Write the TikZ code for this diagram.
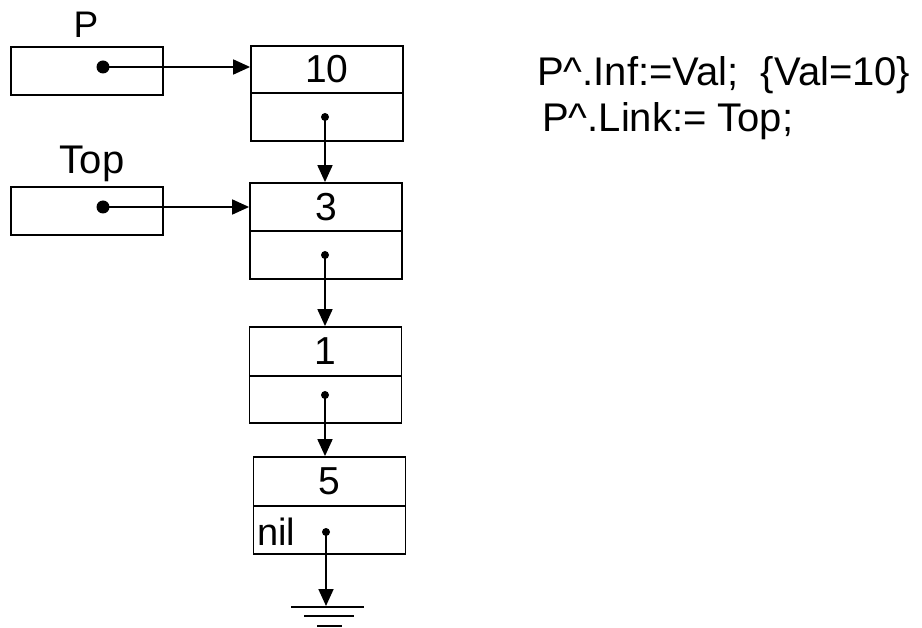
\documentclass[tikz,border=0pt]{standalone}
\usepackage{fontspec}
\setmainfont{Liberation Sans}
\usetikzlibrary{arrows.meta}
\begin{document}
\begin{tikzpicture}[x=1pt,y=-1pt,
  lw/.style={line width=1.8pt},
  cell/.style={draw,lw,minimum width=152pt,inner sep=0pt,anchor=center,font=\fontsize{39}{47}\selectfont},
  bigdot/.style={circle,fill,minimum size=13pt,inner sep=0pt},
  smalldot/.style={circle,fill,minimum size=8pt,inner sep=0pt},
  link/.style={lw,-{Triangle[length=17pt,width=15pt]}},
  lbl/.style={font=\fontsize{37}{45}\selectfont,anchor=base,inner sep=0pt},
  code/.style={font=\fontsize{40}{48}\selectfont,anchor=base west,inner sep=0pt}]
\useasboundingbox (0,0) rectangle (922,628);
% pointer boxes
\node[cell,minimum height=48pt] (pbox) at (87,71) {};
\node[cell,minimum height=48pt] (tbox) at (87,211) {};
\node[lbl] (plbl) at (86,38) {P};
\node[lbl,font=\fontsize{40}{48}\selectfont] (tlbl) at (92,174) {Top};
\node[bigdot] (pd) at (103,67) {};
\node[bigdot] (td) at (103,207) {};
% list cells
\node[cell,minimum height=47pt] (n10a) at (327,69.5) {10};
\node[cell,minimum height=48pt] (n10b) at (327,117) {};
\node[cell,minimum height=48pt] (n3a) at (326,207) {3};
\node[cell,minimum height=48pt] (n3b) at (326,255) {};
\node[cell,minimum height=49pt] (n1a) at (325.5,351.5) {1};
\node[cell,minimum height=47pt] (n1b) at (325.5,399.5) {};
\node[cell,minimum height=49pt] (n5a) at (329.5,481.5) {5};
\node[cell,minimum height=48pt] (n5b) at (329.5,530) {};
\node[font=\fontsize{38}{46}\selectfont,anchor=base west,inner sep=0pt] (nil) at (257,545) {nil};
\node[smalldot] (d10) at (325,117) {};
\node[smalldot] (d3) at (325,255) {};
\node[smalldot] (d1) at (325,395) {};
\node[smalldot] (d5) at (326,532) {};
% connectors
\draw[link] (pd.center) -- (pd.center -| n10a.west);
\draw[link] (td.center) -- (td.center -| n3a.west);
\draw[link] (d10.center) -- (d10.center |- n3a.north);
\draw[link] (d3.center) -- (d3.center |- n1a.north);
\draw[link] (d1.center) -- (d1.center |- n5a.north);
\coordinate (gnd) at (326,606);
\draw[link] (d5.center) -- (gnd);
\draw[lw] (291,607) -- (364,607);
\draw[lw] (304,616) -- (354,616);
\draw[lw] (317,626) -- (342,626);
% code text
\node[code] (c1) at (537,86) {P\^{}.Inf:=Val;\ \ \{Val=10\}};
\node[code] (c2) at (542,132) {P\^{}.Link:= Top;};
\end{tikzpicture}
\end{document}
